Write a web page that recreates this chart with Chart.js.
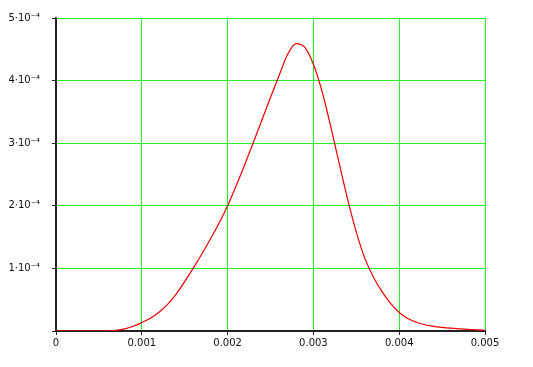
<!DOCTYPE html>
<html>
<head>
<meta charset="utf-8">
<script src="https://cdn.jsdelivr.net/npm/chart.js@4/dist/chart.umd.min.js"></script>
<style>
    html, body { margin: 0; padding: 0; background: #ffffff; }
    #wrap { width: 533px; height: 367px; position: relative; }
</style>
</head>
<body>
<div id="wrap"><canvas id="chart"></canvas></div>
<script>
// time values (s)
const timeValues = [
    0.0000, 0.0001, 0.0002, 0.0003, 0.0004, 0.0005, 0.0006, 0.0007, 0.0008, 0.0009,
    0.0010, 0.0011, 0.0012, 0.0013, 0.0014, 0.0015, 0.0016, 0.0017, 0.0018, 0.0019,
    0.0020, 0.0021, 0.0022, 0.0023, 0.0024, 0.0025, 0.0026, 0.0027, 0.0028, 0.0029,
    0.0030, 0.0031, 0.0032, 0.0033, 0.0034, 0.0035, 0.0036, 0.0037, 0.0038, 0.0039,
    0.0040, 0.0041, 0.0042, 0.0043, 0.0044, 0.0045, 0.0046, 0.0047, 0.0048, 0.0049,
    0.0050
];

// curve values, in units of 1e-4
const curveValues = [
    0, 0, 0, 0, 0, 0, 0.003, 0.012, 0.033, 0.075,
    0.134, 0.204, 0.299, 0.424, 0.589, 0.789, 1.004, 1.23, 1.47, 1.72,
    2.00, 2.32, 2.66, 3.01, 3.37, 3.73, 4.08, 4.42, 4.59, 4.53,
    4.26, 3.83, 3.28, 2.68, 2.10, 1.58, 1.16, 0.86, 0.63, 0.44,
    0.295, 0.20, 0.14, 0.10, 0.075, 0.058, 0.045, 0.035, 0.027, 0.019,
    0.012
];

const xTicks = [0, 0.001, 0.002, 0.003, 0.004, 0.005];
const xTickLabels = ['0', '0.001', '0.002', '0.003', '0.004', '0.005'];
const yTicks = [0, 1e-4, 2e-4, 3e-4, 4e-4, 5e-4];
const yTickLabels = ['', '1·10⁻⁴', '2·10⁻⁴', '3·10⁻⁴', '4·10⁻⁴', '5·10⁻⁴'];

const points = timeValues.map((t, i) => ({ x: t, y: curveValues[i] * 1e-4 }));

function nearestLabel(ticks, labels, value) {
    let best = 0;
    ticks.forEach((t, i) => {
        if (Math.abs(t - value) < Math.abs(ticks[best] - value)) best = i;
    });
    return labels[best];
}

const green = 'rgb(40, 238, 40)';
const axisBlack = '#222';

const ctx = document.getElementById('chart').getContext('2d');
new Chart(ctx, {
    type: 'line',
    data: {
        datasets: [{
            data: points,
            borderColor: 'rgb(235, 0, 0)',
            borderWidth: 1.2,
            pointRadius: 0,
            fill: false,
            cubicInterpolationMode: 'monotone'
        }]
    },
    options: {
        responsive: true,
        maintainAspectRatio: false,
        animation: false,
        layout: {
            padding: { top: 16, right: 48, bottom: 0, left: 0 }
        },
        plugins: {
            legend: { display: false },
            tooltip: { enabled: false }
        },
        scales: {
            x: {
                type: 'linear',
                min: 0,
                max: 0.005,
                afterBuildTicks: (scale) => {
                    scale.ticks = xTicks.map(v => ({ value: v }));
                },
                afterFit: (scale) => { scale.height = 36; },
                ticks: {
                    color: '#111',
                    font: { family: 'DejaVu Sans', size: 10 },
                    padding: 2,
                    maxRotation: 0,
                    autoSkip: false,
                    callback: (value) => nearestLabel(xTicks, xTickLabels, value)
                },
                grid: {
                    color: green,
                    lineWidth: 1,
                    tickColor: axisBlack,
                    tickLength: 4
                },
                border: { color: axisBlack, width: 2 }
            },
            y: {
                min: 0,
                max: 5e-4,
                afterBuildTicks: (scale) => {
                    scale.ticks = yTicks.map(v => ({ value: v }));
                },
                afterFit: (scale) => { scale.width = 56; },
                ticks: {
                    color: '#111',
                    font: { family: 'DejaVu Sans', size: 10 },
                    padding: 12,
                    autoSkip: false,
                    callback: (value) => nearestLabel(yTicks, yTickLabels, value)
                },
                grid: {
                    color: green,
                    lineWidth: 1,
                    tickColor: axisBlack,
                    tickLength: 4
                },
                border: { color: axisBlack, width: 2 }
            }
        }
    }
});
</script>
</body>
</html>
